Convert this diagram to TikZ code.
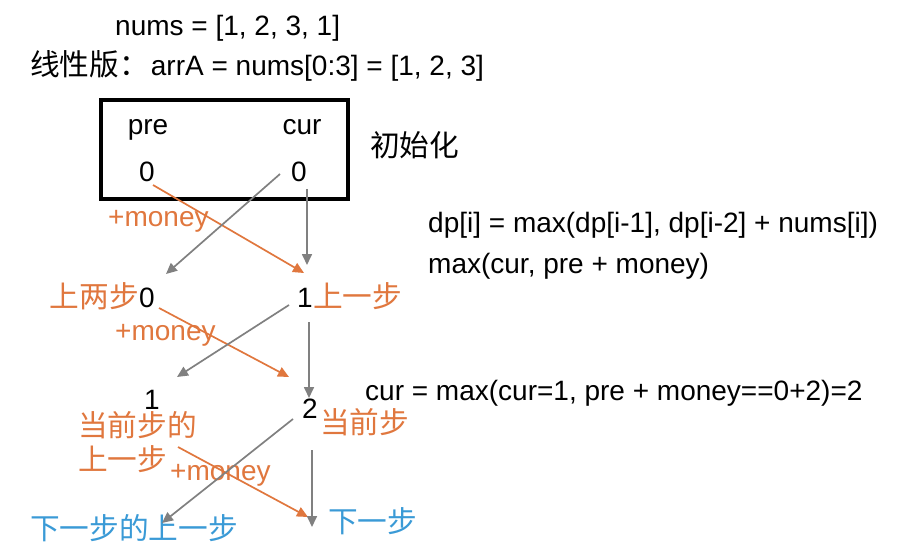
\documentclass[tikz,border=0pt]{standalone}
\usepackage{fontspec}
\setmainfont{Liberation Sans}
\newfontfamily\cjk[Scale=1.06]{Noto Sans CJK SC}
\usepackage{xcolor}
\usepackage{tikz}
\usetikzlibrary{arrows.meta,positioning}
\definecolor{robor}{HTML}{E0773E}
\definecolor{robblue}{HTML}{3A9AD6}
\definecolor{robgray}{HTML}{808080}
\newcommand{\bigtxt}{\fontsize{28}{32}\selectfont}
\tikzset{
  txt/.style={inner sep=0pt,font=\bigtxt,anchor=base west},
  num/.style={txt,anchor=base},
  olbl/.style={txt,text=robor},
  blbl/.style={txt,text=robblue},
  initbox/.style={draw=black,line width=3.5pt,minimum width=247pt,minimum height=99pt,inner sep=0pt},
  garr/.style={-{Triangle[length=11pt,width=10pt]},draw=robgray,line width=1.7pt},
  oarr/.style={garr,draw=robor},
}
\begin{document}
\begin{tikzpicture}[x=1pt,y=-1pt]
  \useasboundingbox (0,0) rectangle (907,556);
  % header lines
  \node[txt] (nums) at (115,36) {nums = [1, 2, 3, 1]};
  \node[txt] (lin) at (30,76) {{\cjk 线性版：}\hspace{2pt}arrA = nums[0:3] = [1, 2, 3]};
  % init box
  \node[initbox] (init) at (224.5,149.5) {};
  \node[num] (pre) at (148,135) {pre};
  \node[num] (cur) at (302,135) {cur};
  \node[num] (pre0) at (147,182) {0};
  \node[num] (cur0) at (299,182) {0};
  \node[txt] (initlbl) at (370,157) {\cjk 初始化};
  \node[olbl] (mon1) at (108,226) {+money};
  \node[txt] (dp) at (428,232) {dp[i] = max(dp[i-1], dp[i-2] + nums[i])};
  \node[txt] (mx) at (428,273) {max(cur, pre + money)};
  % second row
  \node[num] (a0) at (147,307) {0};
  \node[num] (a1) at (305,307) {1};
  \node[olbl,anchor=base east] (prev2) at (a0.base west) {\cjk 上两步};
  \node[olbl] (prev1) at (a1.base east) {\cjk 上一步};
  \node[olbl] (mon2) at (115,340) {+money};
  % third row
  \node[num] (b1) at (152,409) {1};
  \node[num] (b2) at (310,418) {2};
  \node[olbl] (now) at (320,433) {\cjk 当前步};
  \node[olbl] (nowa) at (78,436) {\cjk 当前步的};
  \node[olbl] (nowb) at (78,470) {\cjk 上一步};
  \node[olbl] (mon3) at (170,480) {+money};
  \node[txt] (curmax) at (365,400) {cur = max(cur=1, pre + money==0+2)=2};
  \node[blbl] (nxtprev) at (30,539) {\cjk 下一步的上一步};
  \node[blbl] (nxt) at (328,532) {\cjk 下一步};
  % arrows
  \draw[oarr] ([shift={(6,3)}]pre0.base) -- ([shift={(-1,-34)}]a1.base);
  \draw[garr] ([shift={(-19,-8)}]cur0.base) -- ([shift={(19,-33)}]a0.base);
  \draw[garr] ([shift={(8,7)}]cur0.base) -- ([shift={(2,-42)}]a1.base);
  \draw[oarr] ([shift={(12,1)}]a0.base) -- ([shift={(-21,-41)}]b2.base);
  \draw[garr] ([shift={(-16,-2)}]a1.base) -- ([shift={(25,-32)}]b1.base);
  \draw[garr] ([shift={(4,15)}]a1.base) -- ([shift={(-1,-20)}]b2.base);
  \draw[oarr] ([shift={(26,38)}]b1.base) -- ([shift={(-20,-15)}]nxt.base west);
  \draw[garr] ([shift={(-17,1)}]b2.base) -- ([shift={(132,-16)}]nxtprev.base west);
  \draw[garr] ([shift={(2,32)}]b2.base) -- ([shift={(-16,-5)}]nxt.base west);
\end{tikzpicture}
\end{document}
